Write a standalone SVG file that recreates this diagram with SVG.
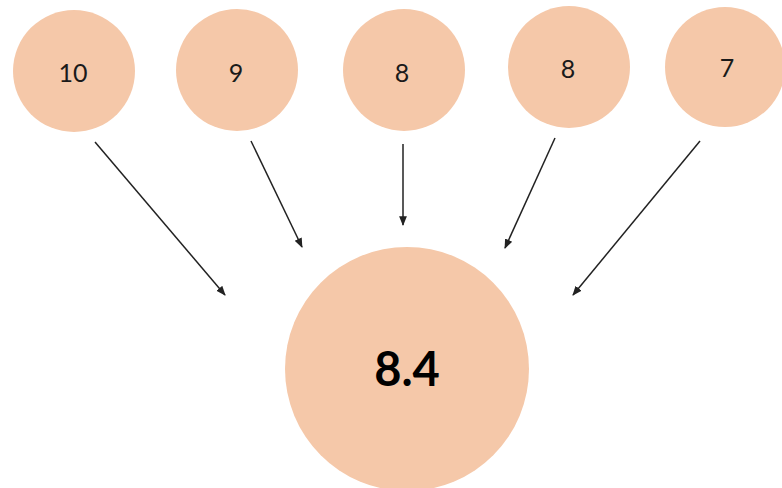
<svg xmlns="http://www.w3.org/2000/svg" width="782" height="488" viewBox="0 0 782 488">
  <style>
    .node { fill: #F5C8A9; }
    .lbl { font-family: Lato, "Open Sans", "Liberation Sans", sans-serif; font-size: 25px; fill: #1a1a1a; text-anchor: middle; dominant-baseline: central; }
    .big { font-size: 47px; font-weight: bold; fill: #000; }
    .conn line { stroke: #222; stroke-width: 1.5; marker-end: url(#arr); }
  </style>
  <defs>
    <marker id="arr" viewBox="0 0 10 10" refX="9" refY="5" markerWidth="6.5" markerHeight="6.5" orient="auto" markerUnits="strokeWidth">
      <path d="M0,1 L10,5 L0,9 Z" fill="#222"/>
    </marker>
  </defs>
  <rect width="782" height="488" fill="#fff"/>
  <g id="n1"><circle class="node" cx="74" cy="71" r="61"/><text class="lbl" x="73" y="72">10</text></g>
  <g id="n2"><circle class="node" cx="237" cy="70" r="61"/><text class="lbl" x="236" y="72">9</text></g>
  <g id="n3"><circle class="node" cx="404" cy="70" r="61"/><text class="lbl" x="402" y="72">8</text></g>
  <g id="n4"><circle class="node" cx="569" cy="67" r="61"/><text class="lbl" x="568" y="68">8</text></g>
  <g id="n5"><circle class="node" cx="725" cy="67" r="60"/><text class="lbl" x="727" y="67">7</text></g>
  <g id="result"><circle class="node" cx="407" cy="369" r="122"/><text class="lbl big" x="407" y="368">8.4</text></g>
  <g id="connectors" class="conn">
    <line x1="95" y1="142" x2="225" y2="295"/>
    <line x1="251" y1="141" x2="302" y2="247"/>
    <line x1="403" y1="144" x2="403" y2="225"/>
    <line x1="555" y1="138" x2="505" y2="248"/>
    <line x1="700" y1="141" x2="573" y2="295"/>
  </g>
</svg>
